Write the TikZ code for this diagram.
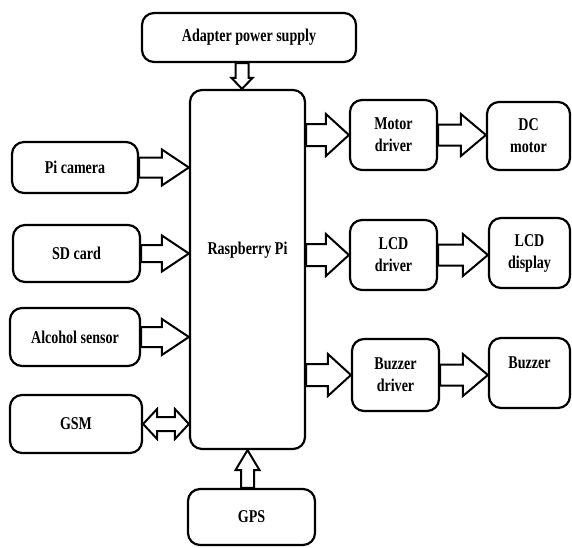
\documentclass[tikz,border=0pt]{standalone}
\usepackage{fontspec}
\setmainfont{Liberation Serif}[FakeStretch=0.78]
\usetikzlibrary{calc}

\tikzset{
  block/.style={draw, line width=2.2pt, rounded corners=12pt, align=center,
    inner sep=0pt, font=\bfseries\fontsize{18}{22}\selectfont},
  %% hollow block arrow: shaft half width, head half width, head length
  blockarrow/.style n args={3}{line width=2pt, line join=miter, to path={
    let \p1=(\tikztostart), \p2=(\tikztotarget),
        \n1={atan2(\y2-\y1,\x2-\x1)}, \n2={veclen(\x2-\x1,\y2-\y1)} in
    {[shift={(\p1)}, rotate=\n1]
      (0pt,#1pt) -- (\n2-#3pt,#1pt) -- (\n2-#3pt,#2pt) -- (\n2,0pt)
      -- (\n2-#3pt,-#2pt) -- (\n2-#3pt,-#1pt) -- (0pt,-#1pt) -- cycle}}},
  dblarrow/.style n args={3}{line width=2pt, line join=miter, to path={
    let \p1=(\tikztostart), \p2=(\tikztotarget),
        \n1={atan2(\y2-\y1,\x2-\x1)}, \n2={veclen(\x2-\x1,\y2-\y1)} in
    {[shift={(\p1)}, rotate=\n1]
      (0pt,0pt) -- (#3pt,#2pt) -- (#3pt,#1pt) -- (\n2-#3pt,#1pt)
      -- (\n2-#3pt,#2pt) -- (\n2,0pt) -- (\n2-#3pt,-#2pt)
      -- (\n2-#3pt,-#1pt) -- (#3pt,-#1pt) -- (#3pt,-#2pt) -- cycle}}},
}

\begin{document}
\begin{tikzpicture}[x=1pt, y=-1pt]
    \useasboundingbox (0,0) rectangle (572,547);
    %% centre block
    \node (pi) [block, minimum width=115pt, minimum height=359pt, text depth=43pt]
        at (247.5,269.5) {Raspberry Pi};
    \node (sup) [block, minimum width=214pt, minimum height=49pt] at (249,37.5) {Adapter power supply};
    \node (gps) [block, minimum width=127pt, minimum height=56pt] at (251.5,517) {GPS};
    %% inputs on the left
    \node (cam) [block, minimum width=126pt, minimum height=51pt] at (75,167.5) {Pi camera};
    \node (sd) [block, minimum width=127pt, minimum height=57pt] at (76.5,253.5) {SD card};
    \node (alc) [block, minimum width=130pt, minimum height=58pt] at (75,337) {Alcohol sensor};
    \node (gsm) [block, minimum width=132pt, minimum height=58pt] at (76,424) {GSM};
    %% drivers and outputs on the right
    \node (mdrv) [block, minimum width=87pt, minimum height=70pt] at (393.5,135) {Motor\\driver};
    \node (ldrv) [block, minimum width=87pt, minimum height=70pt] at (393.5,255) {LCD\\driver};
    \node (bdrv) [block, minimum width=87pt, minimum height=72pt] at (395.5,375) {Buzzer\\driver};
    \node (dcm) [block, minimum width=83pt, minimum height=68pt] at (528.5,136) {DC\\motor};
    \node (ldisp) [block, minimum width=81pt, minimum height=70pt] at (529.5,253) {LCD\\display};
    \node (buz) [block, minimum width=81pt, minimum height=70pt, text depth=20pt] at (529.5,373) {Buzzer};
    %% arrows into the Pi
    \draw[blockarrow={6.5}{10.5}{11}] ([xshift=-7pt]sup.south) to ([xshift=-7pt]sup.south |- pi.north);
    \draw[blockarrow={6.5}{12}{20}] (pi.south |- gps.north) to (pi.south);
    \draw[blockarrow={10}{18}{27}] (cam.east) to (cam.east -| pi.west);
    \draw[blockarrow={8.5}{18}{27}] (sd.east) to (sd.east -| pi.west);
    \draw[blockarrow={10}{18}{27}] (alc.east) to (alc.east -| pi.west);
    \draw[dblarrow={7}{15}{14}] (gsm.east) to (gsm.east -| pi.west);
    %% arrows out of the Pi
    \draw[blockarrow={11}{21}{23}] (mdrv.west -| pi.east) to (mdrv.west);
    \draw[blockarrow={11}{21}{23}] (ldrv.west -| pi.east) to (ldrv.west);
    \draw[blockarrow={11}{21}{23}] (bdrv.west -| pi.east) to (bdrv.west);
    \draw[blockarrow={10.5}{21}{25}] (mdrv.east) to (mdrv.east -| dcm.west);
    \draw[blockarrow={10.5}{21}{25}] (ldrv.east) to (ldrv.east -| ldisp.west);
    \draw[blockarrow={10.5}{21}{25}] (bdrv.east) to (bdrv.east -| buz.west);
\end{tikzpicture}
\end{document}
